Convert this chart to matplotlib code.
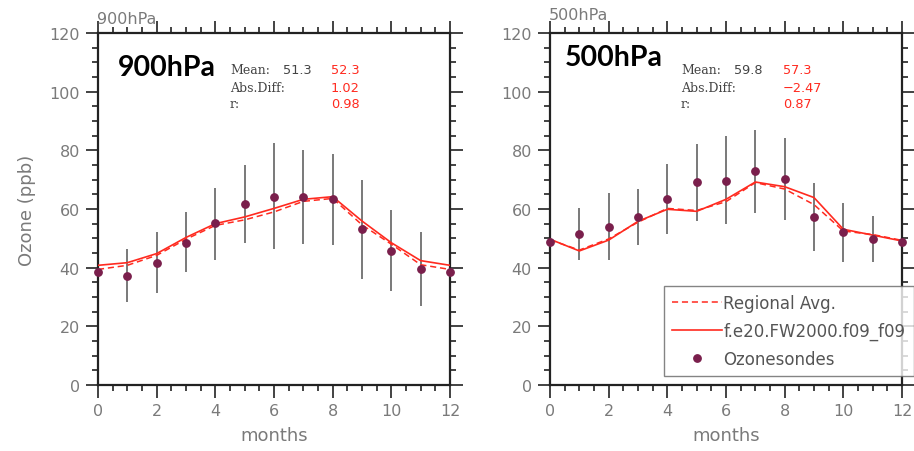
import matplotlib
matplotlib.use("Agg")
import matplotlib.pyplot as plt
from matplotlib.lines import Line2D
from matplotlib.ticker import MultipleLocator

months = list(range(13))

# 900 hPa
obs900 = [38.5, 37.2, 41.6, 48.5, 55.1, 61.8, 64.2, 64.0, 63.3, 53.1, 45.6, 39.7, 38.5]
lo900 = [38.5, 28.3, 31.3, 38.5, 42.6, 48.5, 46.2, 48.0, 47.7, 36.0, 31.9, 27.1, 38.5]
hi900 = [38.5, 46.4, 52.2, 59.0, 67.3, 75.0, 82.4, 80.0, 78.9, 70.0, 59.5, 52.3, 38.5]
model900 = [40.8, 41.7, 44.8, 50.3, 55.0, 57.3, 60.2, 63.3, 64.2, 55.9, 48.5, 42.4, 40.8]
reg900 = [39.4, 40.8, 44.2, 49.7, 54.4, 56.3, 59.0, 62.6, 63.6, 54.6, 48.0, 41.0, 39.4]

# 500 hPa
obs500 = [48.8, 51.5, 54.0, 57.2, 63.3, 69.2, 69.7, 72.8, 70.1, 57.3, 52.0, 49.7, 48.8]
lo500 = [48.8, 42.6, 42.6, 47.6, 51.4, 56.0, 54.8, 58.8, 56.3, 45.7, 41.9, 41.9, 48.8]
hi500 = [48.8, 60.2, 65.3, 66.7, 75.2, 82.1, 84.8, 86.8, 84.1, 68.9, 62.0, 57.6, 48.8]
model500 = [49.7, 45.7, 49.4, 55.8, 59.9, 59.2, 63.3, 69.2, 67.6, 63.9, 53.1, 51.1, 49.1]
reg500 = [49.5, 46.0, 49.8, 55.5, 60.2, 59.5, 62.5, 69.0, 66.8, 61.5, 52.5, 51.3, 49.3]

stats900 = ["51.3", "52.3", "1.02", "0.98"]
stats500 = ["59.8", "57.3", "\u22122.47", "0.87"]

xticks = [0, 2, 4, 6, 8, 10, 12]
yticks = [0, 20, 40, 60, 80, 100, 120]

RED = "#ff2a1f"
DOT = "#7a1f4c"
GRAY = "#7a7a7a"

W, H = 914, 452
fig = plt.figure(figsize=(W / 100, H / 100), dpi=100)


def px_axes(x0, x1, y_top, y_bot):
    return fig.add_axes([x0 / W, 1 - y_bot / H, (x1 - x0) / W, (y_bot - y_top) / H])


def style(ax):
    ax.set_xlim(0, 12)
    ax.set_ylim(0, 120)
    ax.set_xticks(xticks)
    ax.set_yticks(yticks)
    ax.xaxis.set_minor_locator(MultipleLocator(0.5))
    ax.yaxis.set_minor_locator(MultipleLocator(5))
    ax.tick_params(which="both", direction="out", top=True, right=True,
                   labeltop=False, labelright=False, color="#222222", width=1.2)
    ax.tick_params(which="major", length=9, labelsize=11.5, labelcolor=GRAY, pad=4)
    ax.tick_params(which="minor", length=4.5)
    for s in ax.spines.values():
        s.set_linewidth(1.6)
        s.set_color("#222222")
    ax.set_xlabel("months", fontsize=13, color=GRAY, labelpad=6)


def draw(ax, obs, lo, hi, model, reg):
    ax.vlines(months, lo, hi, color="#555555", linewidth=1.1, zorder=2)
    ax.plot(months, reg, color=RED, linestyle=(0, (4, 2.5)), linewidth=1.1, zorder=3)
    ax.plot(months, model, color=RED, linestyle="-", linewidth=1.2, zorder=3)
    ax.plot(months, obs, linestyle="none", marker="o", markersize=5.3,
            color=DOT, zorder=4, clip_on=False)


def stats(ax, vals, xm, xv1, xv2, y0):
    rows = [("Mean:", vals[0], vals[1]), ("Abs.Diff:", None, vals[2]), ("r:", None, vals[3])]
    for i, (lab, v1, v2) in enumerate(rows):
        y = 1 - (y0 + i * 17) / H
        fig.text(xm / W, y, lab, fontsize=9, family="DejaVu Serif", color="#444444", va="center")
        if v1:
            fig.text(xv1 / W, y, v1, fontsize=9.3, family="DejaVu Sans", color="#444444", va="center")
        fig.text(xv2 / W, y, v2, fontsize=9.3, family="DejaVu Sans", color=RED, va="center")


ax1 = px_axes(98, 450, 34, 386)
style(ax1)
draw(ax1, obs900, lo900, hi900, model900, reg900)
ax1.set_ylabel("Ozone (ppb)", fontsize=13, color=GRAY, labelpad=10)
fig.text(97 / W, 1 - 19 / H, "900hPa", fontsize=11.5, color=GRAY, va="center")
fig.text(118 / W, 1 - 68 / H, "900hPa", fontsize=20.5, fontweight="bold", family="Lato",
         color="black", va="center")
stats(ax1, stats900, 230, 283, 331, 71)

ax2 = px_axes(550, 902, 34, 386)
style(ax2)
draw(ax2, obs500, lo500, hi500, model500, reg500)
fig.text(549 / W, 1 - 16 / H, "500hPa", fontsize=11.5, color=GRAY, va="center")
fig.text(565 / W, 1 - 58 / H, "500hPa", fontsize=20.5, fontweight="bold", family="Lato",
         color="black", va="center")
stats(ax2, stats500, 681, 734, 783, 71)

handles = [
    Line2D([], [], color=RED, linestyle=(0, (4, 2.5)), linewidth=1.1),
    Line2D([], [], color=RED, linestyle="-", linewidth=1.2),
    Line2D([], [], color=DOT, linestyle="none", marker="o", markersize=5.3),
]
labels = ["Regional Avg.", "f.e20.FW2000.f09_f09", "Ozonesondes"]
leg = fig.legend(handles, labels, loc="lower left",
                 bbox_to_anchor=(664 / W, 1 - 377 / H),
                 fontsize=12, frameon=True, fancybox=False, handlelength=3.0,
                 handletextpad=0.05, labelspacing=0.58, borderpad=0.5,
                 borderaxespad=0)
leg.get_frame().set_edgecolor("#666666")
leg.get_frame().set_linewidth(1.0)
for t in leg.get_texts():
    t.set_color("#555555")

fig.savefig("out.png", dpi=100)
